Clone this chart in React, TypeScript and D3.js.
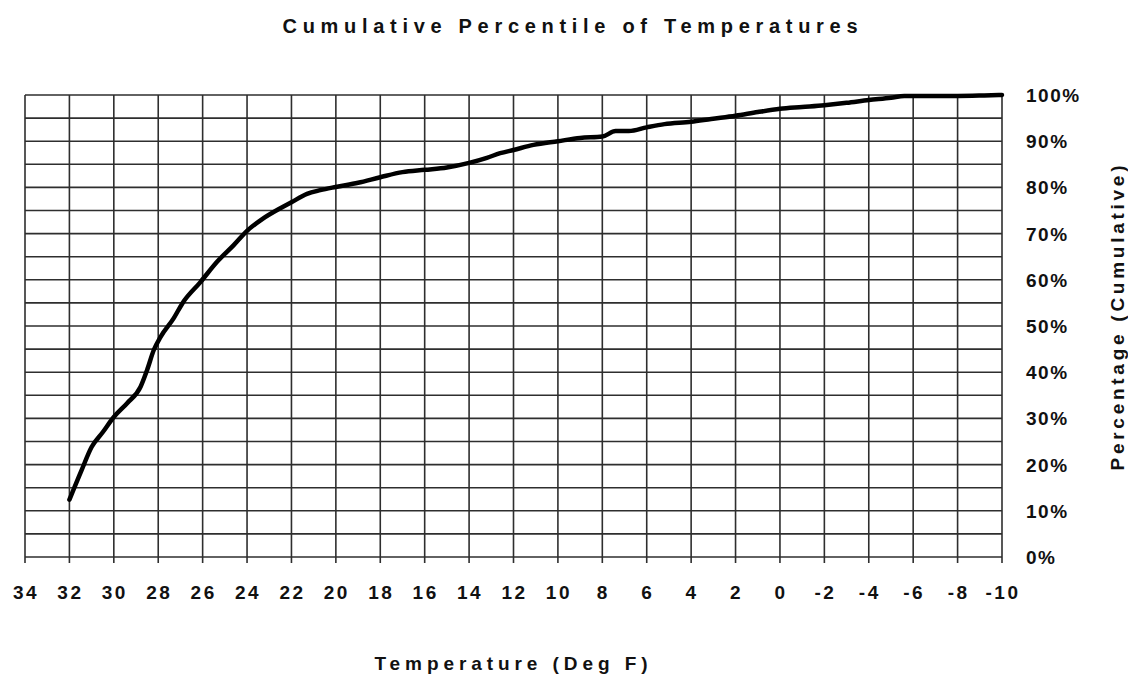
import React from "react";
import * as d3 from "d3";

const temps = [32, 31.45, 31.0, 30.5, 30.0, 29.4, 28.8, 28.5, 28.2, 27.9, 27.3, 26.9, 26.1, 25.35, 24.6, 24.0, 23.3, 22.5, 22.0, 21.3, 20.7, 20.0, 19.0, 18.0, 17.0, 16.0, 15.0, 14.0, 13.2, 12.6, 12.0, 11.1, 10.0, 9.0, 8.0, 7.4, 6.8, 6.0, 5.2, 4.0, 3.1, 2.0, 1.0, 0.0, -1, -2, -3, -4, -5, -5.6, -6, -8, -9.2, -10];
const percents = [12.4, 18.8, 23.8, 27, 30.3, 33.3, 36.8, 40.5, 44.8, 47.6, 51.7, 55, 59.5, 63.9, 67.5, 70.6, 73.2, 75.5, 76.8, 78.6, 79.4, 80.1, 81, 82.2, 83.3, 83.8, 84.3, 85.3, 86.4, 87.4, 88.1, 89.2, 90.0, 90.7, 91, 92.2, 92.2, 93, 93.7, 94.2, 94.8, 95.5, 96.3, 97, 97.4, 97.8, 98.3, 98.9, 99.4, 99.8, 99.8, 99.8, 99.9, 100];
const xTicks = d3.range(34, -11, -2);
const yGrid = d3.range(0, 101, 5);
const yLabels = d3.range(0, 101, 10);

const title = "Cumulative Percentile of Temperatures";
const xTitle = "Temperature  (Deg F)";
const yTitle = "Percentage (Cumulative)";

export default function App() {
  const x = d3.scaleLinear().domain([34, -10]).range([25, 1002]);
  const y = d3.scaleLinear().domain([0, 100]).range([557, 95]);
  const pts = temps.map((t, i) => [t, percents[i]] as [number, number]);
  const line = d3.line<[number, number]>().x((d) => x(d[0])).y((d) => y(d[1])).curve(d3.curveMonotoneX);
  const font = "'Liberation Sans', Arial, sans-serif";
  const grid = "#2e2e2e";
  return (
    <svg width={1128} height={677} style={{ position: "absolute", left: 0, top: 0, background: "#fff" }} fontFamily={font} fontWeight="bold">
      <rect x={0} y={0} width={1128} height={677} fill="#fff" />
      <text x={570} y={33} textAnchor="middle" fontSize={20} textLength={575} lengthAdjust="spacing" fill="#111">{title}</text>
      {yGrid.map((v) => (
        <line key={"h" + v} x1={x(34)} x2={x(-10)} y1={y(v)} y2={y(v)} stroke={grid} strokeWidth={1.6} />
      ))}
      {xTicks.map((t) => (
        <line key={"v" + t} x1={x(t)} x2={x(t)} y1={y(100)} y2={y(0) + 6} stroke={grid} strokeWidth={1.6} />
      ))}
      {xTicks.map((t) => (
        <text key={"xl" + t} x={x(t) + 1} y={599} textAnchor="middle" fontSize={19} letterSpacing={2.5} fill="#111">{String(t)}</text>
      ))}
      {yLabels.map((v) => (
        <text key={"yl" + v} x={1026} y={y(v) + 7} fontSize={19} letterSpacing={1.5} fill="#111">{v + "%"}</text>
      ))}
      <path d={line(pts) || ""} fill="none" stroke="#000" strokeWidth={4.5} strokeLinejoin="round" strokeLinecap="round" />
      <text x={511} y={670} textAnchor="middle" fontSize={19} textLength={273} lengthAdjust="spacing" fill="#111">{xTitle}</text>
      <text transform={`translate(1124, 318) rotate(-90)`} textAnchor="middle" fontSize={19} textLength={305} lengthAdjust="spacing" fill="#111">{yTitle}</text>
    </svg>
  );
}
